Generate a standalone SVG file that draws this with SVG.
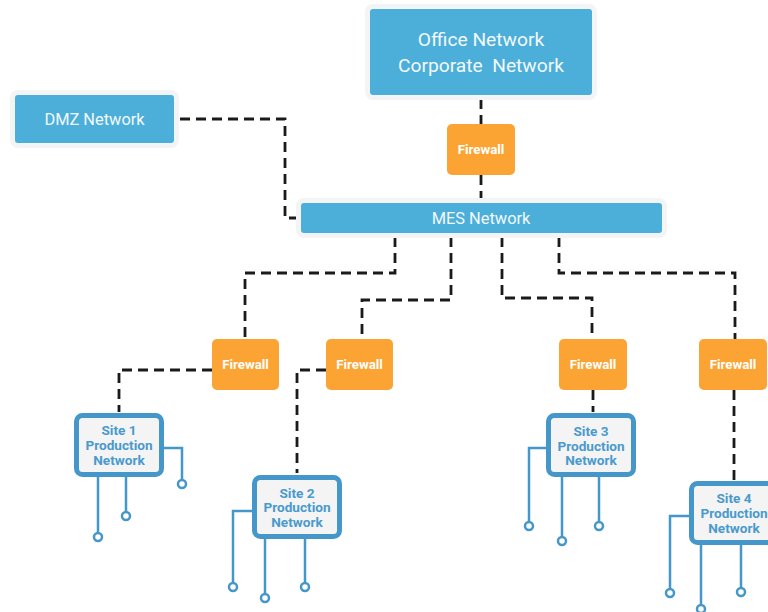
<svg xmlns="http://www.w3.org/2000/svg" width="768" height="612" viewBox="0 0 768 612">
<style>
.halo{fill:#f3f4f5}
.net{fill:#4bafda}
.nt{font-family:Roboto,"Liberation Sans",sans-serif;fill:#f4f8fb;text-anchor:middle}
.fw{fill:#fba433}
.fwt{font-family:Roboto,"Liberation Sans",sans-serif;font-weight:bold;font-size:13.3px;fill:#ffffff;text-anchor:middle}
.site{fill:#f4f4f4;stroke:#4597c9;stroke-width:5}
.st{font-family:Roboto,"Liberation Sans",sans-serif;font-weight:bold;font-size:13.6px;fill:#4a9acd;text-anchor:middle}
.dash{fill:none;stroke:#1a1a1a;stroke-width:2.8;stroke-dasharray:10 6}
.lead{fill:none;stroke:#4597c9;stroke-width:2.5}
.pin{fill:#ffffff;stroke:#4597c9;stroke-width:2.5}
</style>
<rect width="768" height="612" fill="#ffffff"/>
<g id="connectors">
<path class="dash" d="M481 99V124M481 175V203"/>
<path class="dash" d="M180 119H285V218H299"/>
<path class="dash" d="M395 237V273H245V339"/>
<path class="dash" d="M451 237V300H362V339"/>
<path class="dash" d="M502 237V298H592V339"/>
<path class="dash" d="M559 237V273H735V339"/>
<path class="dash" d="M212 370H119V412"/>
<path class="dash" d="M326 370H297V473"/>
<path class="dash" d="M593 390V412"/>
<path class="dash" d="M734 390V480"/>
</g>
<g id="office">
<rect class="halo" x="365" y="4" width="232" height="96" rx="8"/>
<rect class="net" x="370" y="9" width="222" height="86" rx="3"/>
<text class="nt" x="481" y="46" font-size="19.2">Office Network</text>
<text class="nt" x="481" y="72" font-size="19.2" xml:space="preserve">Corporate  Network</text>
</g>
<g id="dmz">
<rect class="halo" x="10" y="90" width="169" height="58" rx="8"/>
<rect class="net" x="15" y="95" width="159" height="48" rx="3"/>
<text class="nt" x="94.5" y="125" font-size="16.4">DMZ Network</text>
</g>
<g id="mes">
<rect class="halo" x="296" y="198" width="371" height="40" rx="8"/>
<rect class="net" x="301" y="203" width="361" height="30" rx="3"/>
<text class="nt" x="481" y="224" font-size="16.4">MES Network</text>
</g>
<g id="firewall-top">
<rect class="fw" x="447" y="124" width="68" height="51" rx="5"/>
<text class="fwt" x="481" y="153.5">Firewall</text>
</g>
<g id="firewall-1">
<rect class="fw" x="212" y="339" width="67" height="51" rx="5"/>
<text class="fwt" x="245.5" y="369">Firewall</text>
</g>
<g id="firewall-2">
<rect class="fw" x="326" y="339" width="67" height="51" rx="5"/>
<text class="fwt" x="359.5" y="369">Firewall</text>
</g>
<g id="firewall-3">
<rect class="fw" x="559" y="339" width="68" height="51" rx="5"/>
<text class="fwt" x="593" y="369">Firewall</text>
</g>
<g id="firewall-4">
<rect class="fw" x="699" y="339" width="68" height="51" rx="5"/>
<text class="fwt" x="733" y="369">Firewall</text>
</g>
<g id="site-1">
<path class="lead" d="M163 448H182V480M98 477V533M126 477V512"/>
<circle class="pin" cx="182" cy="484" r="4"/>
<circle class="pin" cx="98" cy="537" r="4"/>
<circle class="pin" cx="126" cy="516" r="4"/>
<rect class="site" x="76.5" y="415.5" width="85" height="59" rx="6"/>
<text class="st" x="119" y="435">Site 1</text>
<text class="st" x="119" y="450">Production</text>
<text class="st" x="119" y="465">Network</text>
</g>
<g id="site-2">
<path class="lead" d="M253 511H233V583M265 539V594M305 539V583"/>
<circle class="pin" cx="233" cy="587" r="4"/>
<circle class="pin" cx="265" cy="598" r="4"/>
<circle class="pin" cx="305" cy="587" r="4"/>
<rect class="site" x="254.5" y="477.5" width="85" height="59" rx="6"/>
<text class="st" x="297" y="497.5">Site 2</text>
<text class="st" x="297" y="512">Production</text>
<text class="st" x="297" y="527">Network</text>
</g>
<g id="site-3">
<path class="lead" d="M547 448H529V522M562 477V537M599 477V522"/>
<circle class="pin" cx="529" cy="526" r="4"/>
<circle class="pin" cx="562" cy="541" r="4"/>
<circle class="pin" cx="599" cy="526" r="4"/>
<rect class="site" x="548.5" y="415.5" width="85" height="59" rx="6"/>
<text class="st" x="591" y="435.5">Site 3</text>
<text class="st" x="591" y="450.5">Production</text>
<text class="st" x="591" y="465">Network</text>
</g>
<g id="site-4">
<path class="lead" d="M690 516H670V589M701 544V605M741 544V588"/>
<circle class="pin" cx="670" cy="593" r="4"/>
<circle class="pin" cx="701" cy="609" r="4"/>
<circle class="pin" cx="741" cy="592" r="4"/>
<rect class="site" x="691.5" y="483.5" width="85" height="59" rx="6"/>
<text class="st" x="734" y="503">Site 4</text>
<text class="st" x="734" y="518">Production</text>
<text class="st" x="734" y="532.5">Network</text>
</g>
</svg>
